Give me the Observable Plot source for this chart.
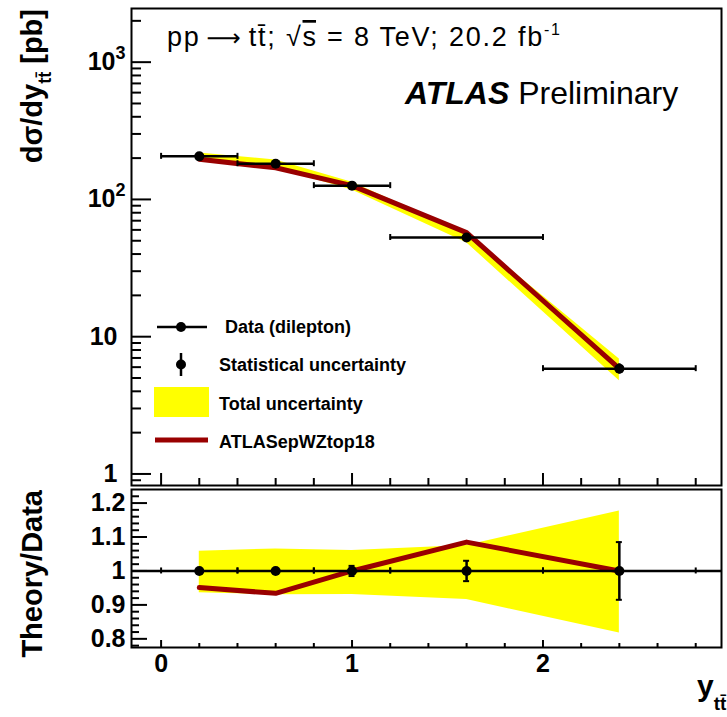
<!DOCTYPE html>
<html><head><meta charset="utf-8">
<script src="https://cdn.jsdelivr.net/npm/d3@7"></script>
<script src="https://cdn.jsdelivr.net/npm/@observablehq/plot@0.6"></script>
<style>
body{margin:0;background:#fff;overflow:hidden;}
#chart{position:relative;width:727px;height:717px;}
#chart svg{position:absolute;left:0;overflow:visible;}
</style></head><body><div id="chart"></div>
<script>
// ---- data ----
const binCenters = [0.2, 0.6, 1.0, 1.6, 2.4];
const binLow     = [0.0, 0.4, 0.8, 1.2, 2.0];
const binHigh    = [0.4, 0.8, 1.2, 2.0, 2.8];
const dataXsec   = [206, 182, 126, 52.8, 5.85];       // pb
const statRel    = [0.004, 0.005, 0.015, 0.03, 0.085];
const totUpRel   = [1.058, 1.065, 1.06, 1.075, 1.177];
const totDownRel = [0.936, 0.93, 0.931, 0.916, 0.817];
const theoryRatio= [0.951, 0.934, 1.0, 1.085, 1.0];   // ATLASepWZtop18 / data
const ratioRef   = [1];

const xMajor = [0, 1, 2];
const xMinor = [0.2, 0.4, 0.6, 0.8, 1.2, 1.4, 1.6, 1.8, 2.2, 2.4, 2.6, 2.8];
const yMajorUpper = [1, 10, 100, 1000];
const yUpperBase  = ["1", "10", "10", "10"];
const yUpperExp   = ["", "", "2", "3"];
const yMinorUpper = [0.9, 2, 3, 4, 5, 6, 7, 8, 9, 20, 30, 40, 50, 60, 70, 80, 90,
                     200, 300, 400, 500, 600, 700, 800, 900, 2000];
const yMajorLower = [0.8, 0.9, 1.0, 1.1, 1.2];
const yLowerLabels = ["0.8", "0.9", "1", "1.1", "1.2"];
const yMinorLower = [0.78, 0.82, 0.84, 0.86, 0.88, 0.92, 0.94, 0.96, 0.98, 1.02, 1.04,
                     1.06, 1.08, 1.12, 1.14, 1.16, 1.18, 1.22];

const legendLabels = ["Data (dilepton)", "Statistical uncertainty", "Total uncertainty", "ATLASepWZtop18"];

const rows = binCenters.map((x, i) => ({
  x, lo: binLow[i], hi: binHigh[i], v: dataXsec[i], stat: statRel[i],
  up: totUpRel[i], dn: totDownRel[i], th: theoryRatio[i]
}));
const upperLabels = yMajorUpper.map((v, i) => ({v, base: yUpperBase[i], exp: yUpperExp[i]}));
const lowerLabels = yMajorLower.map((v, i) => ({v, t: yLowerLabels[i]}));

const FONT = "Liberation Sans, Arial, Helvetica, sans-serif";
const YELLOW = "#ffff00", RED = "#990000";
const W = 727;
const xDomain = [-0.155, 2.935];
const ML = 131, MR = 6;
const frameW = W - ML - MR;

// ---- upper panel ----
const UH = 487, UMT = 8, UMB = 2, uFrameH = UH - UMT - UMB;
const upper = Plot.plot({
  width: W, height: UH, marginLeft: ML, marginRight: MR, marginTop: UMT, marginBottom: UMB,
  x: {domain: xDomain, axis: null},
  y: {type: "log", domain: [0.824, 2460], axis: null},
  marks: [
    Plot.areaY(rows, {x: "x", y1: d => d.v * d.dn, y2: d => d.v * d.up, fill: YELLOW}),
    Plot.line(rows, {x: "x", y: d => d.v * d.th, stroke: RED, strokeWidth: 5}),
    Plot.ruleY(rows, {y: "v", x1: "lo", x2: "hi", stroke: "black", strokeWidth: 2.5}),
    Plot.ruleX(rows, {x: "lo", y1: "v", y2: "v", insetTop: -3, insetBottom: -3, strokeWidth: 2}),
    Plot.ruleX(rows, {x: "hi", y1: "v", y2: "v", insetTop: -3, insetBottom: -3, strokeWidth: 2}),
    Plot.ruleX(rows, {x: "x", y1: d => d.v * (1 - d.stat), y2: d => d.v * (1 + d.stat), strokeWidth: 2.5}),
    Plot.dot(rows, {x: "x", y: "v", r: 5, fill: "black"}),
    Plot.ruleY(yMajorUpper, {y: d => d, insetRight: frameW - 20, strokeWidth: 2}),
    Plot.ruleY(yMinorUpper, {y: d => d, insetRight: frameW - 10, strokeWidth: 2}),
    Plot.ruleX(xMajor, {x: d => d, insetTop: uFrameH - 12, strokeWidth: 2}),
    Plot.ruleX(xMinor, {x: d => d, insetTop: uFrameH - 7, strokeWidth: 2}),
    Plot.text(upperLabels.filter(d => !d.exp), {y: "v", text: "base", frameAnchor: "left", dx: -14,
      textAnchor: "end", fontSize: 25, fontWeight: "bold", fontFamily: FONT}),
    Plot.text(upperLabels.filter(d => d.exp), {y: "v", text: "base", frameAnchor: "left", dx: -16,
      textAnchor: "end", fontSize: 25, fontWeight: "bold", fontFamily: FONT}),
    Plot.text(upperLabels.filter(d => d.exp), {y: "v", text: "exp", frameAnchor: "left", dx: -16, dy: -9,
      textAnchor: "start", fontSize: 18, fontWeight: "bold", fontFamily: FONT}),
    Plot.frame({stroke: "black", strokeWidth: 2})
  ]
});
upper.style.top = "0px";

// ---- lower panel ----
const LH = 230, LMT = 2, LMB = 70, lFrameH = LH - LMT - LMB;
const lower = Plot.plot({
  width: W, height: LH, marginLeft: ML, marginRight: MR, marginTop: LMT, marginBottom: LMB,
  x: {domain: xDomain, axis: null},
  y: {domain: [0.7745, 1.24], axis: null},
  marks: [
    Plot.areaY(rows, {x: "x", y1: "dn", y2: "up", fill: YELLOW}),
    Plot.line(rows, {x: "x", y: "th", stroke: RED, strokeWidth: 5}),
    Plot.ruleY(ratioRef, {y: d => d, stroke: "black", strokeWidth: 2.5}),
    Plot.ruleX(rows, {x: "lo", y1: () => 1, y2: () => 1, insetTop: -3, insetBottom: -3, strokeWidth: 2}),
    Plot.ruleX(rows, {x: "hi", y1: () => 1, y2: () => 1, insetTop: -3, insetBottom: -3, strokeWidth: 2}),
    Plot.ruleX(rows, {x: "x", y1: d => 1 - d.stat, y2: d => 1 + d.stat, strokeWidth: 2.5}),
    Plot.ruleY(rows, {y: d => 1 + d.stat, x1: "x", x2: "x", insetLeft: -3, insetRight: -3, strokeWidth: 2}),
    Plot.ruleY(rows, {y: d => 1 - d.stat, x1: "x", x2: "x", insetLeft: -3, insetRight: -3, strokeWidth: 2}),
    Plot.dot(rows, {x: "x", y: () => 1, r: 5, fill: "black"}),
    Plot.ruleY(yMajorLower, {y: d => d, insetRight: frameW - 16, strokeWidth: 2}),
    Plot.ruleY(yMinorLower, {y: d => d, insetRight: frameW - 8, strokeWidth: 2}),
    Plot.ruleX(xMajor, {x: d => d, insetTop: lFrameH - 7, strokeWidth: 2}),
    Plot.ruleX(xMinor, {x: d => d, insetTop: lFrameH - 4, strokeWidth: 2}),
    Plot.text(lowerLabels, {y: "v", text: "t", frameAnchor: "left", dx: -6, textAnchor: "end",
      fontSize: 25, fontWeight: "bold", fontFamily: FONT}),
    Plot.text(xMajor, {x: d => d, text: d => String(d), frameAnchor: "bottom", dy: 24,
      fontSize: 25, fontWeight: "bold", fontFamily: FONT}),
    Plot.frame({stroke: "black", strokeWidth: 2})
  ]
});
lower.style.top = UH + "px";

const chart = document.getElementById("chart");
chart.appendChild(upper);
chart.appendChild(lower);

// ---- annotations (text, legend, axis titles) ----
const gU = d3.select(upper).append("g").attr("font-family", FONT).attr("fill", "black")
  .attr("text-anchor", "start");
const t1 = gU.append("text").attr("x", 167).attr("y", 46).attr("font-size", 27)
  .attr("textLength", 393).attr("lengthAdjust", "spacing");
t1.append("tspan").text("pp");
t1.append("tspan").attr("dx", 6).attr("font-family", "DejaVu Sans").attr("font-size", 24).text("\u27F6");
t1.append("tspan").attr("dx", 6).text("tt\u0304; \u221A");
t1.append("tspan").attr("text-decoration", "overline").text("s");
t1.append("tspan").text(" = 8 TeV; 20.2 fb");
t1.append("tspan").attr("font-size", 16).attr("dy", -11).text("-1");

const t2 = gU.append("text").attr("x", 405).attr("y", 104).attr("font-size", 32);
t2.append("tspan").attr("font-weight", "bold").attr("font-style", "italic").text("ATLAS");
t2.append("tspan").text(" Preliminary");

const yt = gU.append("text").attr("transform", "translate(42,9) rotate(-90)")
  .attr("text-anchor", "end").attr("font-size", 29).attr("font-weight", "bold");
yt.append("tspan").text("d\u03C3/dy");
yt.append("tspan").attr("font-size", 18).attr("dy", 9).text("tt\u0304");
yt.append("tspan").attr("dy", -9).text(" [pb]");

// legend
const lg = gU.append("g").attr("font-size", 18).attr("font-weight", "bold");
lg.append("line").attr("x1", 157).attr("x2", 207).attr("y1", 327).attr("y2", 327).attr("stroke", "black").attr("stroke-width", 2.5);
lg.append("circle").attr("cx", 181).attr("cy", 327).attr("r", 5);
lg.append("text").attr("x", 225).attr("y", 333).text(legendLabels[0]);
lg.append("line").attr("x1", 181).attr("x2", 181).attr("y1", 353).attr("y2", 376).attr("stroke", "black").attr("stroke-width", 2.5);
lg.append("circle").attr("cx", 181).attr("cy", 364.5).attr("r", 5);
lg.append("text").attr("x", 219).attr("y", 371).text(legendLabels[1]);
lg.append("rect").attr("x", 154).attr("y", 387).attr("width", 55).attr("height", 30).attr("fill", YELLOW);
lg.append("text").attr("x", 219).attr("y", 410).text(legendLabels[2]);
lg.append("line").attr("x1", 155).attr("x2", 208).attr("y1", 440).attr("y2", 440).attr("stroke", RED).attr("stroke-width", 5);
lg.append("text").attr("x", 219).attr("y", 448).text(legendLabels[3]);

const gL = d3.select(lower).append("g").attr("font-family", FONT).attr("fill", "black")
  .attr("text-anchor", "start");
gL.append("text").attr("transform", "translate(42,3) rotate(-90)").attr("text-anchor", "end")
  .attr("font-size", 29).attr("font-weight", "bold").text("Theory/Data");
const xt = gL.append("text").attr("x", 697).attr("y", 209).attr("font-size", 30).attr("font-weight", "bold");
xt.append("tspan").text("y");
xt.append("tspan").attr("font-size", 19).attr("dy", 14).text("tt\u0304");
</script></body></html>
